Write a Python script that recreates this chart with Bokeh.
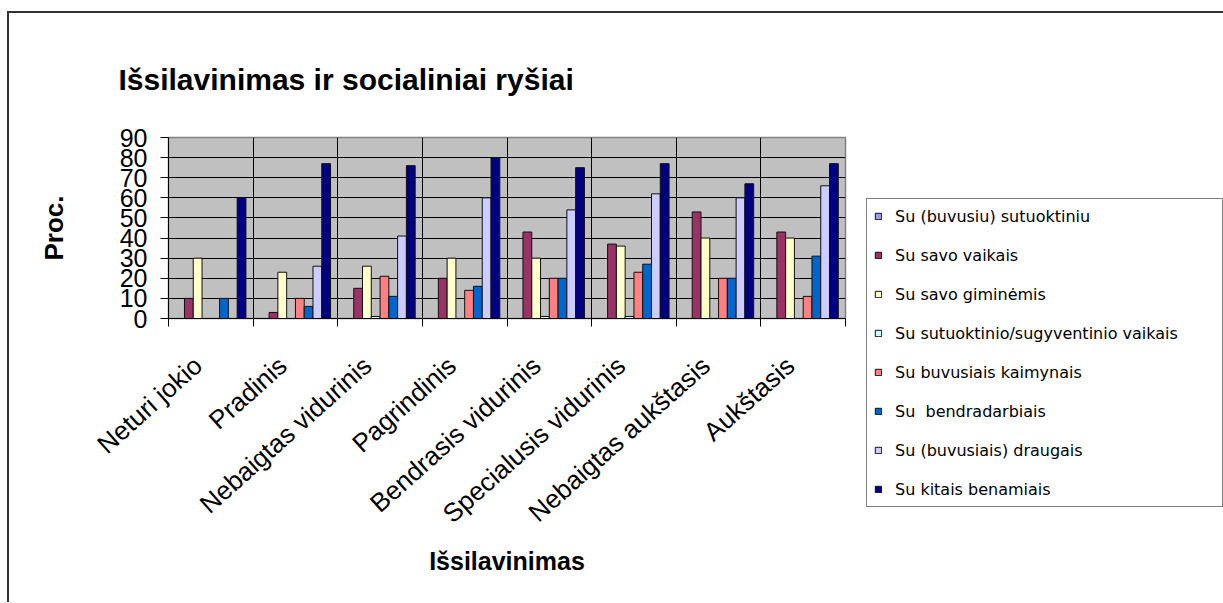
from bokeh.plotting import figure
from bokeh.models import Range1d, FixedTicker, Legend, LegendItem, Title
from bokeh.embed import file_html
from bokeh.resources import INLINE

# ---------------- data ----------------
categories = ["Neturi jokio", "Pradinis", "Nebaigtas vidurinis", "Pagrindinis",
              "Bendrasis vidurinis", "Specialusis vidurinis", "Nebaigtas aukštasis", "Aukštasis"]

series_names = ["Su (buvusiu) sutuoktiniu", "Su savo vaikais", "Su savo giminėmis",
                "Su sutuoktinio/sugyventinio vaikais", "Su buvusiais kaimynais",
                "Su  bendradarbiais", "Su (buvusiais) draugais", "Su kitais benamiais"]

su_sutuoktiniu = [0, 0, 0, 0, 0, 0, 0, 0]
su_vaikais = [10, 3, 15, 20, 43, 37, 53, 43]
su_giminemis = [30, 23, 26, 30, 30, 36, 40, 40]
su_sutuoktinio_vaikais = [0, 0, 1, 0, 1, 1, 0, 0]
su_kaimynais = [0, 10, 21, 14, 20, 23, 20, 11]
su_bendradarbiais = [10, 6, 11, 16, 20, 27, 20, 31]
su_draugais = [0, 26, 41, 60, 54, 62, 60, 66]
su_benamiais = [60, 77, 76, 80, 75, 77, 67, 77]

y_ticks = [0, 10, 20, 30, 40, 50, 60, 70, 80, 90]

series_values = [su_sutuoktiniu, su_vaikais, su_giminemis, su_sutuoktinio_vaikais,
                 su_kaimynais, su_bendradarbiais, su_draugais, su_benamiais]
series_colors = ["#9999FF", "#993366", "#FFFFCC", "#CCFFFF",
                 "#FF8080", "#0066CC", "#CCCCFF", "#000080"]

# ---------------- figure ----------------
W, H = 1213, 589
FL, FT, FW, FH = 159, 124, 677, 181

p = figure(frame_width=FW, frame_height=FH, output_backend="svg", toolbar_location=None,
           title_location=None,
           x_range=Range1d(0, len(categories)), y_range=Range1d(0, 90),
           min_border_left=FL, min_border_top=FT,
           min_border_right=W - FL - FW, min_border_bottom=H - FT - FH,
           background_fill_color="#C0C0C0", border_fill_color="white")
p.styles = {"border-top": "2px solid #333333", "border-left": "2px solid #333333",
            "margin-top": "11px", "margin-left": "7px"}
p.outline_line_color = "#808080"
p.outline_line_width = 1.5

xa = p.below[0]
ya = p.left[0]

# title, lifted above the plot area by its standoff
title = Title(text="Išsilavinimas ir socialiniai ryšiai", text_font="Liberation Sans",
              text_font_size="30px", text_font_style="bold", text_color="black",
              align="left", offset=-50, standoff=84)
p.add_layout(title, "above")

# bars
n = len(series_values)
group_frac = 0.83
bw = group_frac / n
renderers = []
centers = [i + 0.5 for i in range(len(categories))]
for j, (vals, col) in enumerate(zip(series_values, series_colors)):
    xs = [c + (j - (n - 1) / 2) * bw for c in centers]
    r = p.vbar(x=xs, top=vals, width=bw, bottom=0, fill_color=col,
               line_color="#111111", line_width=1)
    renderers.append(r)

# x axis
label_pos = [c - 0.15 for c in centers]
xa.ticker = FixedTicker(ticks=label_pos, minor_ticks=list(range(len(categories) + 1)))
xa.major_label_overrides = {c: cat for c, cat in zip(label_pos, categories)}
xa.major_label_orientation = 0.73
xa.major_tick_out = 0
xa.major_tick_in = 0
xa.minor_tick_out = 8
xa.minor_tick_in = 0
xa.minor_tick_line_color = "black"
xa.axis_line_color = "black"
xa.major_label_text_font = "Liberation Sans"
xa.major_label_text_font_size = "26px"
xa.major_label_text_color = "black"
xa.major_label_standoff = 35
xa.axis_label = "Išsilavinimas"
xa.axis_label_text_font = "Liberation Sans"
xa.axis_label_text_font_size = "25px"
xa.axis_label_text_font_style = "bold"
xa.axis_label_text_color = "black"
xa.axis_label_standoff = 4

# y axis
ya.ticker = FixedTicker(ticks=y_ticks)
ya.major_tick_out = 8
ya.major_tick_in = 0
ya.minor_tick_line_color = None
ya.axis_line_color = "black"
ya.major_tick_line_color = "black"
ya.major_label_text_font = "Liberation Sans"
ya.major_label_text_font_size = "25px"
ya.major_label_text_color = "black"
ya.major_label_standoff = 13
ya.axis_label = "Proc."
ya.axis_label_text_font = "Liberation Sans"
ya.axis_label_text_font_size = "26px"
ya.axis_label_text_font_style = "bold"
ya.axis_label_text_color = "black"
ya.axis_label_standoff = 48

# grids
p.ygrid.ticker = FixedTicker(ticks=y_ticks)
p.ygrid.grid_line_color = "black"
p.ygrid.grid_line_width = 1
p.xgrid.grid_line_color = None
p.xgrid.minor_grid_line_color = "black"
p.xgrid.minor_grid_line_width = 1

# legend (in the right-hand panel so that it is not clipped)
items = [LegendItem(label=name, renderers=[r]) for name, r in zip(series_names, renderers)]
legend = Legend(items=items, location=(21, -189), orientation="vertical",
                border_line_color="black", border_line_width=1,
                background_fill_color="white", background_fill_alpha=1,
                padding=7, spacing=19, margin=0,
                label_height=20, label_width=320, label_standoff=13,
                glyph_width=8, glyph_height=8,
                label_text_font="DejaVu Sans", label_text_font_size="16px",
                label_text_color="black", label_text_baseline="middle")
p.add_layout(legend, "right")

open("out.html", "w").write(file_html(p, INLINE))
